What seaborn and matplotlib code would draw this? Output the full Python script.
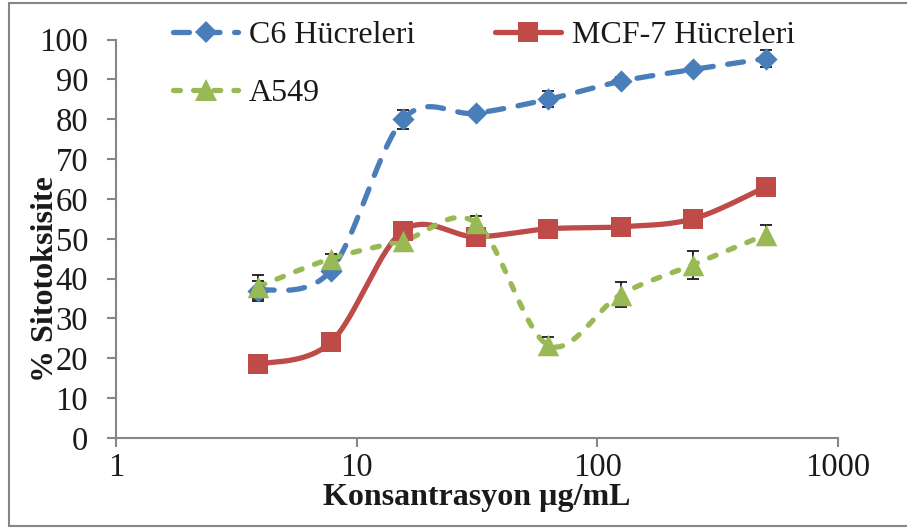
import numpy as np
import matplotlib
matplotlib.use("Agg")
import matplotlib.pyplot as plt
from matplotlib.lines import Line2D
import seaborn as sns

# konsantrasyon (ug/mL)
konsantrasyon = [3.9, 7.8, 15.6, 31.25, 62.5, 125, 250, 500]

c6 = [37.0, 42.0, 80.0, 81.5, 85.0, 89.5, 92.5, 95.2]
c6_err = [2.5, 0.0, 2.4, 0.0, 2.0, 1.0, 0.0, 2.1]

mcf7 = [18.5, 24.0, 52.0, 50.5, 52.5, 53.0, 55.0, 63.0]
mcf7_err = [0, 0, 0, 0, 0, 0, 0, 0]

a549 = [38.0, 45.0, 49.5, 54.0, 23.3, 36.0, 43.5, 51.0]
a549_err = [3.0, 1.3, 0.0, 1.7, 2.0, 3.1, 3.5, 2.5]

sns.set_theme(style="white")
plt.rcParams['font.family'] = ['Liberation Serif', 'DejaVu Serif']
plt.rcParams['lines.scale_dashes'] = False


def smooth(xs, ys, n=40):
    # excel style smoothed line, done in log-x space
    px = np.log10(xs)
    py = np.asarray(ys, dtype=float)
    P = np.column_stack([px, py])
    out = []
    for i in range(len(P) - 1):
        p0 = P[i - 1] if i > 0 else P[i]
        p1 = P[i]
        p2 = P[i + 1]
        p3 = P[i + 2] if i + 2 < len(P) else P[i + 1]
        c1 = p1 + (p2 - p0) / 6
        c2 = p2 - (p3 - p1) / 6
        t = np.linspace(0, 1, n)[:, None]
        seg = ((1 - t) ** 3) * p1 + 3 * ((1 - t) ** 2) * t * c1 + 3 * (1 - t) * t ** 2 * c2 + t ** 3 * p2
        out.append(seg if i == 0 else seg[1:])
    out = np.vstack(out)
    return 10 ** out[:, 0], out[:, 1]


fig = plt.figure(figsize=(9.07, 5.31), dpi=100)
ax = fig.add_axes([0.1279, 0.1751, 0.7961, 0.7505])

blue = '#4A7EBB'
red = '#BE4B48'
green = '#98B954'
lw = 3.8

series = [
    ('C6 Hücreleri', c6, c6_err, blue, 'D', 11.3, (0, (11.5, 10.5))),
    ('MCF-7 Hücreleri', mcf7, mcf7_err, red, 's', 14.5, '-'),
    ('A549', a549, a549_err, green, '^', 15.5, (0, (5, 9.5))),
]

handles = {}
for name, vals, err, col, mk, ms, ls in series:
    sx, sy = smooth(konsantrasyon, vals)
    ax.plot(sx, sy, color=col, lw=lw, linestyle=ls, dash_capstyle='round',
            solid_capstyle='round', zorder=2)
    e = np.asarray(err)
    has = e > 0
    if has.any():
        ax.errorbar(np.asarray(konsantrasyon)[has], np.asarray(vals)[has], yerr=e[has],
                    fmt='none', ecolor='#1a1a1a', elinewidth=1.3, capsize=4.3,
                    capthick=1.3, zorder=2.5)
    sns.scatterplot(x=konsantrasyon, y=vals, ax=ax, marker=mk, s=ms ** 2,
                    color=col, edgecolor=col, linewidth=0, zorder=3)
    handles[name] = Line2D([], [], color=col, lw=lw, linestyle=ls, marker=mk,
                           markersize=ms, markeredgewidth=0, dash_capstyle='round',
                           solid_capstyle='round')

ax.set_xscale('log')
ax.set_xlim(1, 1000)
ax.set_ylim(0, 100)
ax.set_yticks(range(0, 101, 10))
ax.set_xticks([1, 10, 100, 1000])
ax.set_xticklabels(['1', '10', '100', '1000'])
ax.minorticks_off()

for s in ['top', 'right']:
    ax.spines[s].set_visible(False)
for s in ['left', 'bottom']:
    ax.spines[s].set_color('#868686')
    ax.spines[s].set_linewidth(1.5)

ax.tick_params(axis='both', which='major', direction='out', length=6.5, width=1.5,
               color='#868686', labelsize=23.5, labelcolor='#1a1a1a')
ax.tick_params(axis='y', pad=13.5)
ax.tick_params(axis='x', pad=4)
ax.tick_params(left=True, bottom=True)

ax.set_xlabel('Konsantrasyon µg/mL', fontsize=23, fontweight='bold', color='#1a1a1a', labelpad=0)
ax.set_ylabel('% Sitotoksisite', fontsize=23, fontweight='bold', color='#1a1a1a')
ax.yaxis.set_label_coords(-0.078, 0.40)

order = ['C6 Hücreleri', 'A549', 'MCF-7 Hücreleri']
ax.legend([handles[k] for k in order], order, ncol=2, frameon=False, fontsize=23,
          loc='upper left', bbox_to_anchor=(0.061, 1.08), handlelength=2.05,
          handletextpad=0.34, columnspacing=2.5, labelspacing=0.9,
          borderaxespad=0, labelcolor='#1a1a1a')

# outer frame of the picture
for xs_, ys_ in [([9, 907], [3, 3]), ([9, 9], [3, 526]), ([9, 907], [526, 526])]:
    fig.add_artist(Line2D([v / 907 for v in xs_], [1 - v / 531 for v in ys_],
                          color='#868686', lw=1.5, transform=fig.transFigure))

fig.savefig('out.png', dpi=100)
